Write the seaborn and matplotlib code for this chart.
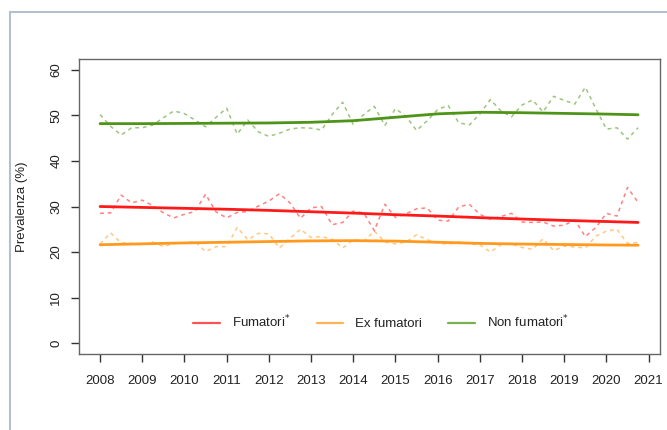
import matplotlib

matplotlib.use("Agg")

import matplotlib.pyplot as plt
import numpy as np
import seaborn as sns
from matplotlib.lines import Line2D

# quarterly observations, 2008 Q1 .. 2020 Q4
quarters = np.arange(2008, 2021, 0.25)

fumatori = [
    28.5, 28.6, 32.5, 30.8, 31.4, 30.2, 28.6, 27.5, 28.3, 28.9,
    32.7, 28.8, 27.5, 28.7, 28.9, 30.1, 31.2, 32.8, 30.8, 27.4,
    29.7, 30.0, 26.0, 26.5, 29.0, 28.6, 24.7, 30.5, 27.6, 28.4,
    29.5, 29.7, 27.0, 26.8, 29.9, 30.5, 28.3, 27.2, 27.8, 28.5,
    26.6, 26.5, 26.6, 25.7, 25.9, 27.0, 23.4, 25.4, 28.5, 27.9,
    34.2, 30.9,
]
ex_fumatori = [
    21.8, 24.2, 22.0, 21.9, 21.6, 22.2, 21.2, 21.9, 22.0, 22.3,
    20.1, 21.2, 21.2, 25.4, 22.7, 24.1, 24.0, 20.9, 23.0, 25.0,
    23.2, 23.4, 22.8, 20.9, 22.7, 22.4, 24.6, 22.2, 21.8, 22.2,
    23.8, 22.7, 22.0, 21.7, 22.2, 21.8, 21.6, 20.0, 21.6, 21.8,
    21.0, 20.6, 22.9, 20.3, 21.3, 21.1, 20.9, 23.5, 24.6, 25.0,
    21.9, 22.1,
]
non_fumatori = [
    50.2, 47.6, 45.7, 47.3, 47.3, 47.9, 49.5, 51.0, 50.4, 49.0,
    47.5, 49.6, 51.6, 45.9, 49.0, 46.4, 45.4, 46.1, 47.0, 47.3,
    47.2, 46.8, 50.2, 52.9, 48.0, 50.2, 52.0, 47.8, 51.5, 49.8,
    46.7, 48.8, 51.3, 52.2, 48.4, 47.9, 50.3, 53.5, 51.0, 49.7,
    52.3, 53.4, 50.8, 54.2, 53.3, 52.5, 56.2, 51.5, 47.0, 47.3,
    44.8, 47.3,
]

# smoothed trend
trend_x = [2008, 2009, 2010, 2011, 2012, 2013, 2014, 2015, 2016, 2017, 2018, 2019, 2020, 2020.75]
trend_fumatori = [30.0, 29.8, 29.6, 29.4, 29.15, 28.85, 28.55, 28.2, 27.9, 27.55, 27.25, 26.95, 26.7, 26.5]
trend_ex = [21.6, 21.8, 22.0, 22.15, 22.3, 22.45, 22.5, 22.4, 22.15, 21.9, 21.75, 21.65, 21.55, 21.5]
trend_non = [48.2, 48.2, 48.25, 48.3, 48.35, 48.5, 48.85, 49.6, 50.35, 50.7, 50.6, 50.45, 50.3, 50.15]

labels = ["Fumatori$^{*}$", "Ex fumatori", "Non fumatori$^{*}$"]
year_ticks = list(range(2008, 2022))
y_ticks = [0, 10, 20, 30, 40, 50, 60]

RED = "#ff1a1a"
ORANGE = "#ff9a1f"
GREEN = "#4e9418"

sns.set_theme(style="white")
plt.rcParams["font.family"] = ["Liberation Sans", "DejaVu Sans"]

fig = plt.figure(figsize=(6.67, 4.30), dpi=100)
ax = fig.add_axes([0.1184, 0.1767, 0.8711, 0.6861])

series = [
    (fumatori, trend_fumatori, RED),
    (ex_fumatori, trend_ex, ORANGE),
    (non_fumatori, trend_non, GREEN),
]
for raw, trend, color in series:
    sns.lineplot(x=quarters, y=raw, color=color, alpha=0.55, linewidth=1.1,
                 linestyle=(0, (2.5, 2.5)), ax=ax)
    sns.lineplot(x=trend_x, y=trend, color=color, linewidth=2.0, ax=ax)

ax.set_xlim(2007.5, 2021.27)
ax.set_ylim(-2.4, 62.4)
ax.set_xticks(year_ticks)
ax.set_yticks(y_ticks)
ax.set_xticklabels([str(y) for y in year_ticks])
ax.set_yticklabels([str(v) for v in y_ticks])
ax.tick_params(axis="both", bottom=True, left=True, length=6, width=1,
               color="#333333", labelsize=9.5, labelcolor="#222222")
ax.tick_params(axis="x", pad=9)
ax.tick_params(axis="y", labelrotation=90, pad=6)
for lab in ax.get_yticklabels():
    lab.set_va("center")
for sp in ax.spines.values():
    sp.set_color("#666666")
    sp.set_linewidth(1.0)
ax.set_xlabel("")
ax.set_ylabel("Prevalenza (%)", fontsize=9.5, color="#222222")
ax.yaxis.set_label_coords(-0.087, 0.5)

handles = [Line2D([], [], color=c, linewidth=1.6, alpha=0.75) for _, _, c in series]
ax.legend(handles, labels, loc="lower center", bbox_to_anchor=(0.52, 0.04), ncol=3,
          frameon=False, fontsize=9.5, handlelength=2.0, handletextpad=0.9,
          columnspacing=2.0, labelcolor="#222222")

# panel border
fig.add_artist(Line2D([10 / 667, 10 / 667], [0, 1 - 12 / 430], transform=fig.transFigure,
                      color="#b4c0d0", linewidth=1.5))
fig.add_artist(Line2D([10 / 667, 1], [1 - 12 / 430, 1 - 12 / 430], transform=fig.transFigure,
                      color="#b4c0d0", linewidth=1.5))

fig.savefig("out.png", dpi=100)
